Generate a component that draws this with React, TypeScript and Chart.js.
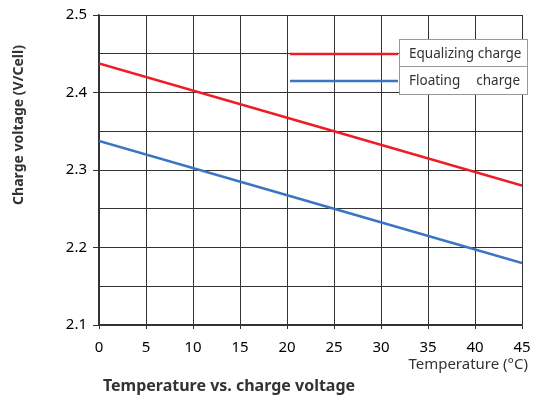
import React, { useEffect, useRef } from "react";
import { Chart, registerables } from "chart.js";

Chart.register(...registerables);

const temperatures = [0, 25, 45];
const equalizingCharge = [2.4375, 2.35, 2.28];
const floatingCharge = [2.3375, 2.25, 2.18];
const seriesLabels = ["Equalizing charge", "Floating    charge"];
const xTitle = "Temperature (°C)";
const yTitle = "Charge voltage (V/Cell)";
const bottomTitle = "Temperature vs. charge voltage";

const FONT = "'Noto Sans', 'Open Sans', sans-serif";

const customPlugin = {
  id: "custom",
  afterDraw(chart: any) {
    const ctx = chart.ctx;
    ctx.save();
    const ds = chart.data.datasets;
    const boxLeft = 399;
    const boxRight = 528;
    ds.forEach((d: any, i: number) => {
      const y = 54 + i * 27;
      ctx.strokeStyle = d.borderColor;
      ctx.lineWidth = 2.5;
      ctx.beginPath();
      ctx.moveTo(290, y);
      ctx.lineTo(boxLeft - 1, y);
      ctx.stroke();
      ctx.fillStyle = "#fff";
      ctx.fillRect(boxLeft, y - 15, boxRight - boxLeft, 29);
      ctx.strokeStyle = "#999";
      ctx.lineWidth = 1;
      ctx.strokeRect(boxLeft + 0.5, y - 14.5, boxRight - boxLeft - 1, 28);
      ctx.fillStyle = "#333";
      ctx.font = `13.5px ${FONT}`;
      ctx.textBaseline = "middle";
      const parts = d.label.split(/\s{2,}/);
      if (parts.length > 1) {
        ctx.textAlign = "left";
        ctx.fillText(parts[0], 409, y);
        ctx.textAlign = "right";
        ctx.fillText(parts[1], 520, y);
      } else {
        ctx.textAlign = "left";
        ctx.fillText(d.label, 409, y);
      }
    });
    ctx.fillStyle = "#333";
    ctx.font = `bold 14px ${FONT}`;
    ctx.textAlign = "center";
    ctx.textBaseline = "middle";
    ctx.translate(19, 125);
    ctx.rotate(-Math.PI / 2);
    ctx.fillText(yTitle, 0, 0);
    ctx.restore();
    ctx.save();
    ctx.fillStyle = "#333";
    ctx.font = `bold 16px ${FONT}`;
    ctx.textAlign = "center";
    ctx.textBaseline = "middle";
    ctx.fillText(bottomTitle, 229, 386);
    ctx.font = `15px ${FONT}`;
    ctx.textAlign = "right";
    ctx.fillText(xTitle, 528, 365);
    ctx.restore();
  },
};

export default function App() {
  const ref = useRef<HTMLCanvasElement>(null);
  useEffect(() => {
    document.body.style.margin = "0";
    const chart = new Chart(ref.current!, {
      type: "line",
      data: {
        datasets: [
          {
            label: seriesLabels[0],
            data: temperatures.map((t, i) => ({ x: t, y: equalizingCharge[i] })),
            borderColor: "#ee1c25",
            borderWidth: 2.5,
            pointRadius: 0,
          },
          {
            label: seriesLabels[1],
            data: temperatures.map((t, i) => ({ x: t, y: floatingCharge[i] })),
            borderColor: "#3b74c3",
            borderWidth: 2.5,
            pointRadius: 0,
          },
        ],
      },
      options: {
        animation: false,
        responsive: false,
        layout: { padding: { left: 0, top: 15, right: 11, bottom: 0 } },
        plugins: { legend: { display: false }, tooltip: { enabled: false } },
        scales: {
          x: {
            type: "linear",
            min: 0,
            max: 45,
            afterFit: (s: any) => {
              s.height = 73;
              s.paddingLeft = 0;
              s.paddingRight = 0;
            },
            ticks: {
              stepSize: 5,
              color: "#000",
              font: { size: 15, family: FONT },
              padding: 10,
              maxRotation: 0,
            },
            grid: { color: "#333", lineWidth: 1, tickLength: 4, tickColor: "#333" },
            border: { color: "#333", width: 1.5 },
          },
          y: {
            type: "linear",
            min: 2.1,
            max: 2.5,
            afterFit: (s: any) => {
              s.width = 99;
              s.paddingTop = 0;
              s.paddingBottom = 0;
            },
            ticks: {
              stepSize: 0.05,
              color: "#000",
              font: { size: 15, family: FONT },
              padding: 6,
              callback: (v: any) => {
                const n = Math.round(Number(v) * 100);
                return n % 10 === 0 ? (n / 100).toFixed(1) : "";
              },
            },
            grid: {
              color: "#333",
              lineWidth: 1,
              tickLength: 6,
              tickColor: (c: any) => {
                const n = Math.round(Number(c.tick?.value) * 100);
                return n % 10 === 0 ? "#333" : "rgba(0,0,0,0)";
              },
            },
            border: { color: "#333", width: 1.5 },
          },
        },
      },
      plugins: [customPlugin],
    });
    return () => chart.destroy();
  }, []);
  return (
    <div style={{ width: 533, height: 398, background: "#fff" }}>
      <canvas ref={ref} width={533} height={398} />
    </div>
  );
}
